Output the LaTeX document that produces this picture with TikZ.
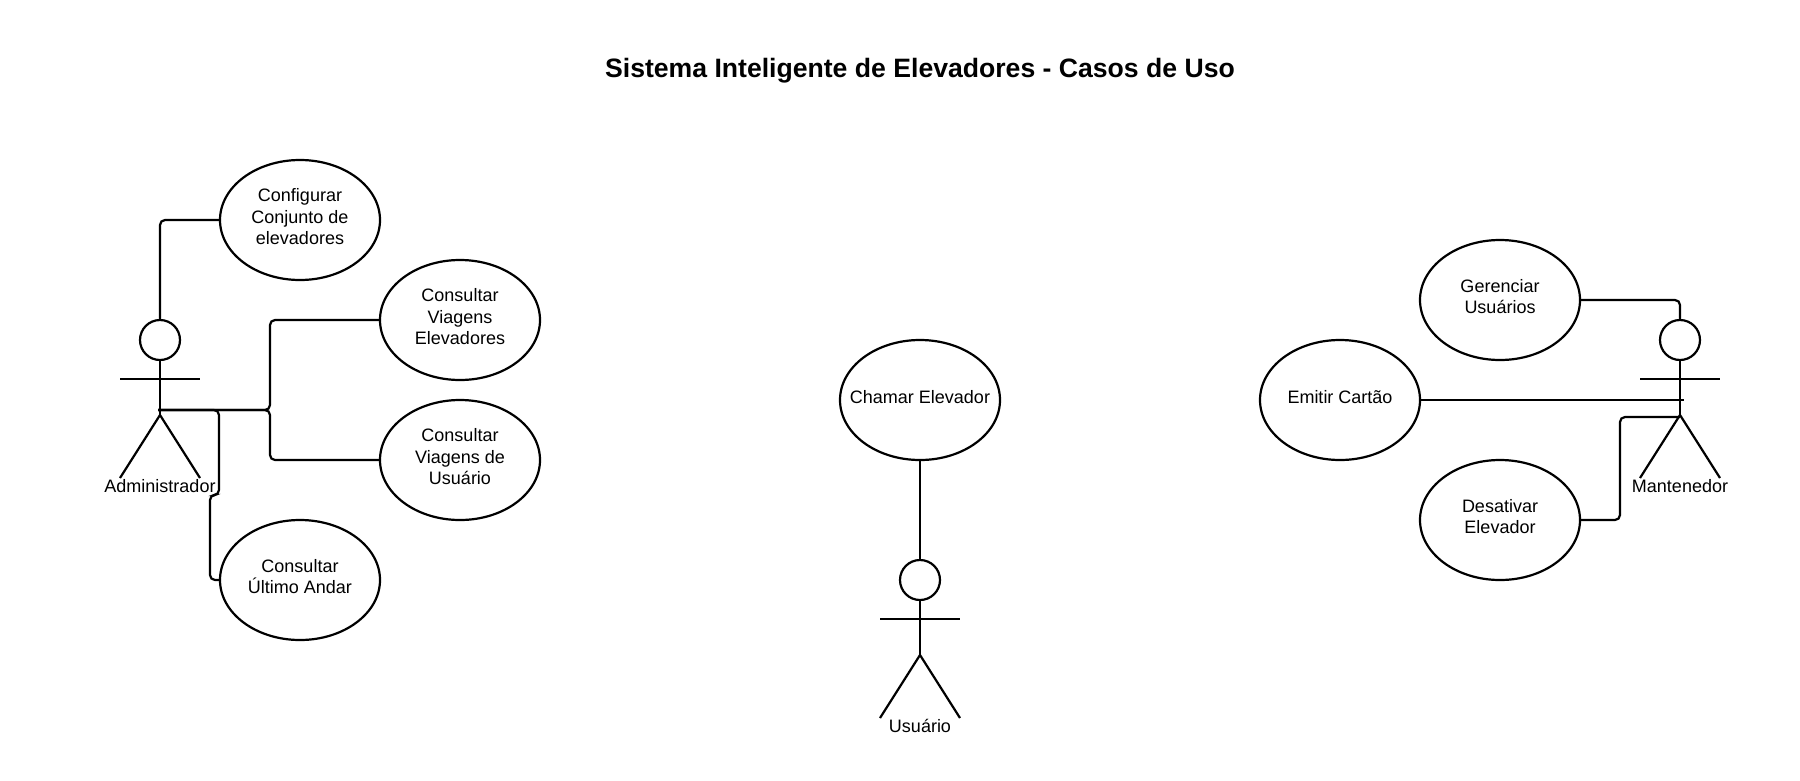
\documentclass[tikz,border=0pt]{standalone}
\usepackage{fontspec}
\setmainfont{Liberation Sans}
\usetikzlibrary{shapes.geometric}
\tikzset{
  x=1pt,y=-1pt,
  usecase/.style={ellipse,draw=black,line width=2.2pt,minimum width=160pt,minimum height=120pt,inner sep=0pt},
  uctext/.style={align=center,inner sep=0pt,yshift=3.4pt,font=\fontsize{18}{21.6}\selectfont,text=black},
  conn/.style={draw=black,line width=2.2pt,rounded corners=5pt},
  figline/.style={draw=black,line width=2.2pt},
  armline/.style={draw=black,line width=1.7pt},
  headshape/.style={circle,draw=black,line width=2.2pt,minimum size=40pt,inner sep=0pt},
  actorname/.style={inner sep=0pt,font=\fontsize{18}{21.6}\selectfont,text=black},
  titletext/.style={inner sep=0pt,font=\fontsize{26.6}{32}\selectfont\bfseries,text=black}
}
\newcommand{\stickfig}[4]{%
  \node[headshape] (#1Head) at (#2,#3) {};
  \coordinate (#1ArmL) at (#2-40,#3+39);
  \coordinate (#1ArmR) at (#2+40,#3+39);
  \coordinate (#1Hip) at (#2,#3+75);
  \coordinate (#1FootL) at (#2-40,#3+138);
  \coordinate (#1FootR) at (#2+40,#3+138);
  \node[actorname] (#1Name) at (#2,#3+146) {#4};
  \draw[figline] (#1Head.south) -- (#1Hip);
  \draw[armline] (#1ArmL) -- (#1ArmR);
  \draw[figline] (#1FootL) -- (#1Hip) -- (#1FootR);
}
\begin{document}
\begin{tikzpicture}
\useasboundingbox (0,0) rectangle (1800,780);
\fill[white] (0,0) rectangle (1800,780);
\node[titletext] (title) at (920,70.5) {Sistema Inteligente de Elevadores - Casos de Uso};

\node[usecase,label={[uctext]center:{Configurar\\Conjunto de\\elevadores}}] (cfg) at (300,220) {};
\node[usecase,label={[uctext]center:{Consultar\\Viagens\\Elevadores}}] (vel) at (460,320) {};
\node[usecase,label={[uctext]center:{Consultar\\Viagens de\\Usuário}}] (vus) at (460,460) {};
\node[usecase,label={[uctext]center:{Consultar\\Último Andar}}] (ult) at (300,580) {};
\node[usecase,label={[uctext]center:{Chamar Elevador}}] (cha) at (920,400) {};
\node[usecase,label={[uctext]center:{Emitir Cartão}}] (emi) at (1340,400) {};
\node[usecase,label={[uctext]center:{Gerenciar\\Usuários}}] (ger) at (1500,300) {};
\node[usecase,label={[uctext]center:{Desativar\\Elevador}}] (des) at (1500,520) {};

\stickfig{adm}{160}{340}{Administrador}
\stickfig{usu}{920}{580}{Usuário}
\stickfig{man}{1680}{340}{Mantenedor}

\coordinate (admStart) at (158,410);
\coordinate (manEnd) at (1684,400);
\coordinate (manHipTop) at (1680,417);

\draw[conn] (admHead.north) |- (cfg.west);
\draw[conn] (admStart) -- (270,410) -- (270,320) -- (vel.west);
\draw[conn] (admStart) -- (270,410) -- (270,460) -- (vus.west);
\draw[conn] (admStart) -- (219,410) -- (219,495) -- (210,495) -- (210,580) -- (ult.west);
\draw[conn] (cha.south) -- (usuHead.north);
\draw[conn] (ger.east) -| (manHead.north);
\draw[conn] (emi.east) -- (manEnd);
\draw[conn] (des.east) -- (1620,520) -- (1620,417) -- (manHipTop);
\end{tikzpicture}
\end{document}
